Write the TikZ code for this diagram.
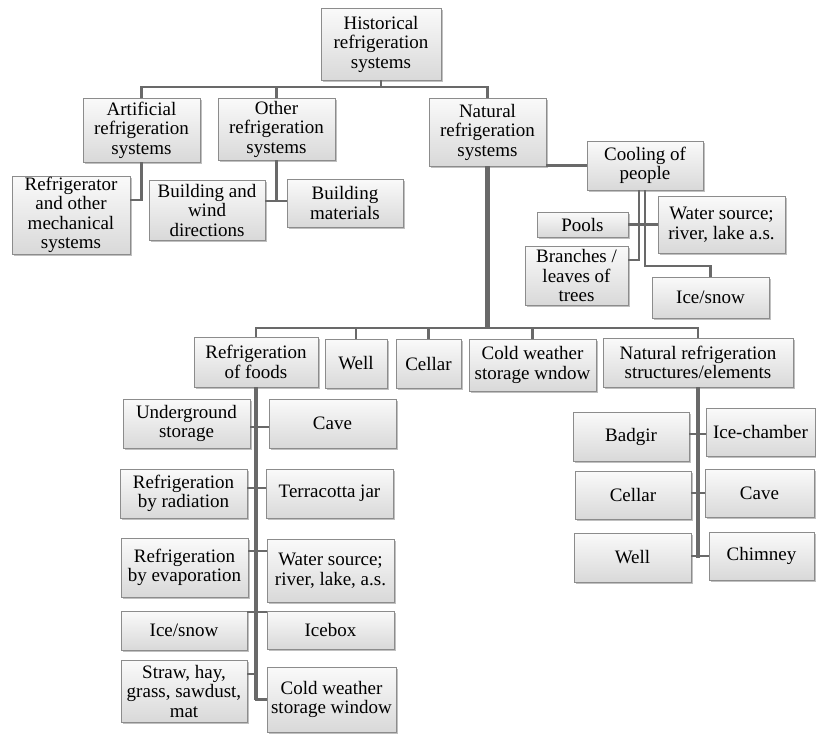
\documentclass[tikz,border=0pt]{standalone}
\usepackage{fontspec}
\setmainfont{Liberation Serif}
\newfontfamily\boxfont{Liberation Serif}
\usetikzlibrary{shadows}
\definecolor{lncol}{RGB}{105,105,105}
\definecolor{bordcol}{RGB}{140,140,140}
\tikzset{
  bx/.style={draw=bordcol, line width=0.8pt, top color=gray!4, bottom color=gray!30,
    align=center, inner sep=1pt, font=\boxfont\fontsize{19}{19.5}\selectfont,
    drop shadow={shadow xshift=1.6pt, shadow yshift=-1.6pt, fill=black!45, opacity=0.55}},
  ln/.style={draw=lncol, line width=2.8pt},
  thk/.style={draw=lncol, line width=4.2pt}
}
\newcommand\mybox[6]{\node[bx, minimum width=#4pt, minimum height=#5pt] (#1) at (#2,#3) {#6};}
\begin{document}
\begin{tikzpicture}[x=1pt,y=-1pt]
\useasboundingbox (0,0) rectangle (816,734);
% nodes
\mybox{hist}{381}{44}{120}{72}{Historical\\refrigeration\\systems}
\mybox{art}{141.5}{130}{117}{64}{Artificial\\refrigeration\\systems}
\mybox{oth}{276.5}{129}{117}{62}{Other\\refrigeration\\systems}
\mybox{nat}{487.5}{132}{117}{68}{Natural\\refrigeration\\systems}
\mybox{ref}{71}{215}{118}{74}{Refrigerator\\and other\\mechanical\\systems}
\mybox{bwd}{207}{210}{116}{60}{Building and\\wind\\directions}
\mybox{bmat}{345}{203}{116}{48}{Building\\materials}
\mybox{cool}{645}{165.5}{116}{49}{Cooling of\\people}
\mybox{pools}{582.5}{224.5}{91}{25}{Pools}
\mybox{wsc}{721.5}{224.5}{127}{57}{Water source;\\river, lake a.s.}
\mybox{bran}{576.5}{275.5}{103}{59}{Branches /\\leaves of\\trees}
\mybox{icec}{710.5}{297.5}{117}{41}{Ice/snow}
\mybox{rof}{256}{362}{124}{50}{Refrigeration\\of foods}
\mybox{well}{356}{363.5}{62}{49}{Well}
\mybox{cel}{428.5}{363.5}{65}{49}{Cellar}
\mybox{cws}{532.5}{365}{127}{52}{Cold weather\\storage wndow}
\mybox{nrs}{698}{362.5}{190}{49}{Natural refrigeration\\structures/elements}
\mybox{bad}{631}{436.5}{116}{49}{Badgir}
\mybox{icech}{760.5}{432}{109}{48}{Ice-chamber}
\mybox{cel2}{633}{495}{116}{48}{Cellar}
\mybox{cave2}{759.5}{493}{109}{48}{Cave}
\mybox{well2}{632.5}{557.5}{117}{49}{Well}
\mybox{chim}{761.5}{556}{105}{48}{Chimney}
\mybox{ug}{186.5}{423.5}{127}{49}{Underground\\storage}
\mybox{cave}{332.5}{423.5}{127}{49}{Cave}
\mybox{rrad}{183.5}{493.5}{127}{49}{Refrigeration\\by radiation}
\mybox{terr}{329.5}{493.5}{127}{49}{Terracotta jar}
\mybox{revap}{184.5}{567.5}{127}{59}{Refrigeration\\by evaporation}
\mybox{wsf}{330.5}{570.5}{127}{63}{Water source;\\river, lake, a.s.}
\mybox{ice}{184}{630.5}{126}{39}{Ice/snow}
\mybox{icebox}{330.5}{630}{127}{38}{Icebox}
\mybox{straw}{184}{691}{126}{62}{Straw, hay,\\grass, sawdust,\\mat}
\mybox{cwsw}{331.5}{699.5}{129}{65}{Cold weather\\storage window}
% connectors: top level
\coordinate (b1) at (0,87);
\draw[ln] (hist.south) -- (hist.south|-b1);
\draw[ln] (art.north) -- (art.north|-b1) -- (nat.north|-b1) -- (nat.north);
\draw[ln] (oth.north) -- (oth.north|-b1);
% artificial
\draw[ln] (art.south) |- ([yshift=15pt]ref.east);
% other
\coordinate (b2) at (0,201);
\draw[ln] (oth.south) -- (oth.south|-b2);
\draw[ln] (bwd.east|-b2) -- (bmat.west|-b2);
% natural -> cooling
\draw[ln] (nat.east|-cool.west) -- (cool.west);
% cooling children
\coordinate (c1) at (0,260);
\coordinate (c2) at (0,266);
\draw[ln] ([xshift=-6pt]cool.south) -- ([xshift=-6pt]cool.south|-c1) -- (bran.east|-c1);
\draw[ln] (cool.south) -- (cool.south|-c2) -- (icec.north|-c2) -- (icec.north);
\draw[ln] (pools.east) -- (wsc.west|-pools.east);
% natural trunk
\coordinate (b3) at (0,328);
\draw[thk] (nat.south) -- (nat.south|-b3);
\draw[ln] (rof.north) -- (rof.north|-b3) -- (nrs.north|-b3) -- (nrs.north);
\draw[ln] (well.north) -- (well.north|-b3);
\draw[ln] (cel.north) -- (cel.north|-b3);
\draw[ln] (cws.north) -- (cws.north|-b3);
% foods trunk
\draw[thk] (rof.south) -- (rof.south|-cwsw.west);
\draw[ln] ([xshift=-1pt]rof.south|-cwsw.west) -- (cwsw.west);
\coordinate (f1) at (0,427);
\coordinate (f2) at (0,488);
\coordinate (f3) at (0,551);
\coordinate (f4) at (0,612);
\coordinate (f5) at (0,674);
\draw[ln] (ug.east|-f1) -- (cave.west|-f1);
\draw[ln] (rrad.east|-f2) -- (terr.west|-f2);
\draw[ln] (revap.east|-f3) -- (wsf.west|-f3);
\draw[ln] (ice.east|-f4) -- (icebox.west|-f4);
\draw[ln] (straw.east|-f5) -- (rof.south|-f5);
% structures trunk
\draw[thk] (nrs.south) -- (nrs.south|-well2.east);
\coordinate (s1) at (0,434);
\coordinate (s2) at (0,493);
\coordinate (s3) at (0,556);
\draw[ln] (bad.east|-s1) -- (icech.west|-s1);
\draw[ln] (cel2.east|-s2) -- (cave2.west|-s2);
\draw[ln] (well2.east|-s3) -- (chim.west|-s3);
\end{tikzpicture}
\end{document}
